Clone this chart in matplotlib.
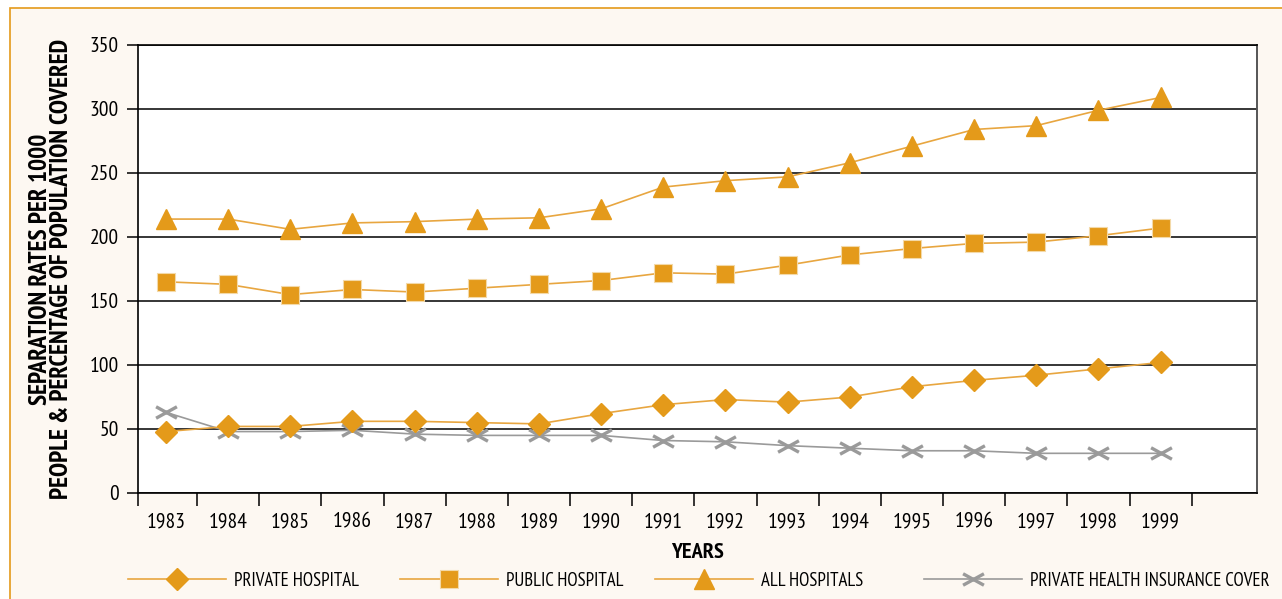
import numpy as np
import matplotlib.pyplot as plt
from matplotlib.path import Path
from matplotlib.patches import Rectangle

plt.rcParams['font.family'] = ['PT Sans Narrow', 'DejaVu Sans']

years = ['1983', '1984', '1985', '1986', '1987', '1988', '1989', '1990', '1991',
         '1992', '1993', '1994', '1995', '1996', '1997', '1998', '1999']
private_hospital = [48, 52, 52, 56, 56, 55, 54, 62, 69, 73, 71, 75, 83, 88, 92, 97, 102]
public_hospital = [165, 163, 155, 159, 157, 160, 163, 166, 172, 171, 178, 186, 191, 195, 196, 201, 207]
all_hospitals = [214, 214, 206, 211, 212, 214, 215, 222, 239, 244, 247, 258, 271, 284, 287, 299, 309]
insurance_cover = [63, 48, 48, 49, 46, 45, 45, 45, 41, 40, 37, 35, 33, 33, 31, 31, 31]

orange = '#E49A1A'
line_orange = '#E8A640'
grey = '#9A9A9A'

# flattened cross marker
flat_x = Path([(-1, -0.55), (1, 0.55), (-1, 0.55), (1, -0.55)],
              [Path.MOVETO, Path.LINETO, Path.MOVETO, Path.LINETO])

fig = plt.figure(figsize=(12.82, 5.99), dpi=100)
fig.patch.set_facecolor('white')
# cream panel with orange edge
fig.patches.append(Rectangle((10 / 1282, -0.1), 1.2, (599 - 8) / 599 + 0.1,
                             transform=fig.transFigure, facecolor='#FDF8F2',
                             edgecolor=orange, linewidth=1.2, zorder=-10))

ax = fig.add_axes([138 / 1282, 106 / 599, 1119 / 1282, 448 / 599])
ax.set_facecolor('white')

x = np.arange(len(years))
lines = []
lines += ax.plot(x, private_hospital, color=line_orange, lw=1.2, marker='D', ms=11,
                 mfc=orange, mec=orange, label='PRIVATE HOSPITAL', zorder=3)
lines += ax.plot(x, public_hospital, color=line_orange, lw=1.2, marker='s', ms=13,
                 mfc=orange, mec='#F3D9A8', mew=0.8, label='PUBLIC HOSPITAL', zorder=3)
lines += ax.plot(x, all_hospitals, color=line_orange, lw=1.2, marker='^', ms=15,
                 mfc=orange, mec=orange, label='ALL HOSPITALS', zorder=3)
lines += ax.plot(x, insurance_cover, color=grey, lw=1.2, marker=flat_x, ms=15,
                 mec=grey, mew=2.4, label='PRIVATE HEALTH INSURANCE COVER', zorder=2)

ax.set_xlim(-0.45, 17.55)
ax.set_ylim(0, 350)
ax.set_yticks(np.arange(0, 351, 50))
ax.yaxis.grid(True, color='black', lw=1.1)
ax.set_axisbelow(True)

# ticks between categories, labels at category centres
ax.set_xticks(np.concatenate([[-0.45], np.arange(0.5, 17, 1)]))
ax.set_xticklabels([])
ax.set_xticks(x, minor=True)
ax.set_xticklabels(years, minor=True)
ax.tick_params(axis='x', which='major', length=9, width=1.1, direction='out', color='black')
ax.tick_params(axis='x', which='minor', length=0, pad=14, labelsize=15.5)
ax.tick_params(axis='y', length=8, width=1.1, direction='out', labelsize=15.5, pad=6)

for side in ['left', 'bottom', 'top']:
    ax.spines[side].set_color('black')
    ax.spines[side].set_linewidth(1.2)
ax.spines['right'].set_color('#555555')
ax.spines['right'].set_linewidth(1.4)

ax.set_xlabel('YEARS', fontsize=16, fontweight='bold', labelpad=8)
fig.text(51 / 1282, (599 - 269) / 599,
         'SEPARATION RATES PER 1000\nPEOPLE & PERCENTAGE OF POPULATION COVERED',
         rotation=90, ha='center', va='center', multialignment='center',
         fontsize=18.3, fontweight='bold', linespacing=0.9)

# one legend entry per slot along the bottom
for line, x0 in zip(lines, [128, 400, 655, 924]):
    fig.legend(handles=[line], loc='center left', bbox_to_anchor=(x0 / 1282, 18 / 599),
               frameon=False, fontsize=13.5, handlelength=5.2, handletextpad=0.45,
               borderpad=0, borderaxespad=0)

fig.savefig('out.png', dpi=100, facecolor=fig.get_facecolor())
